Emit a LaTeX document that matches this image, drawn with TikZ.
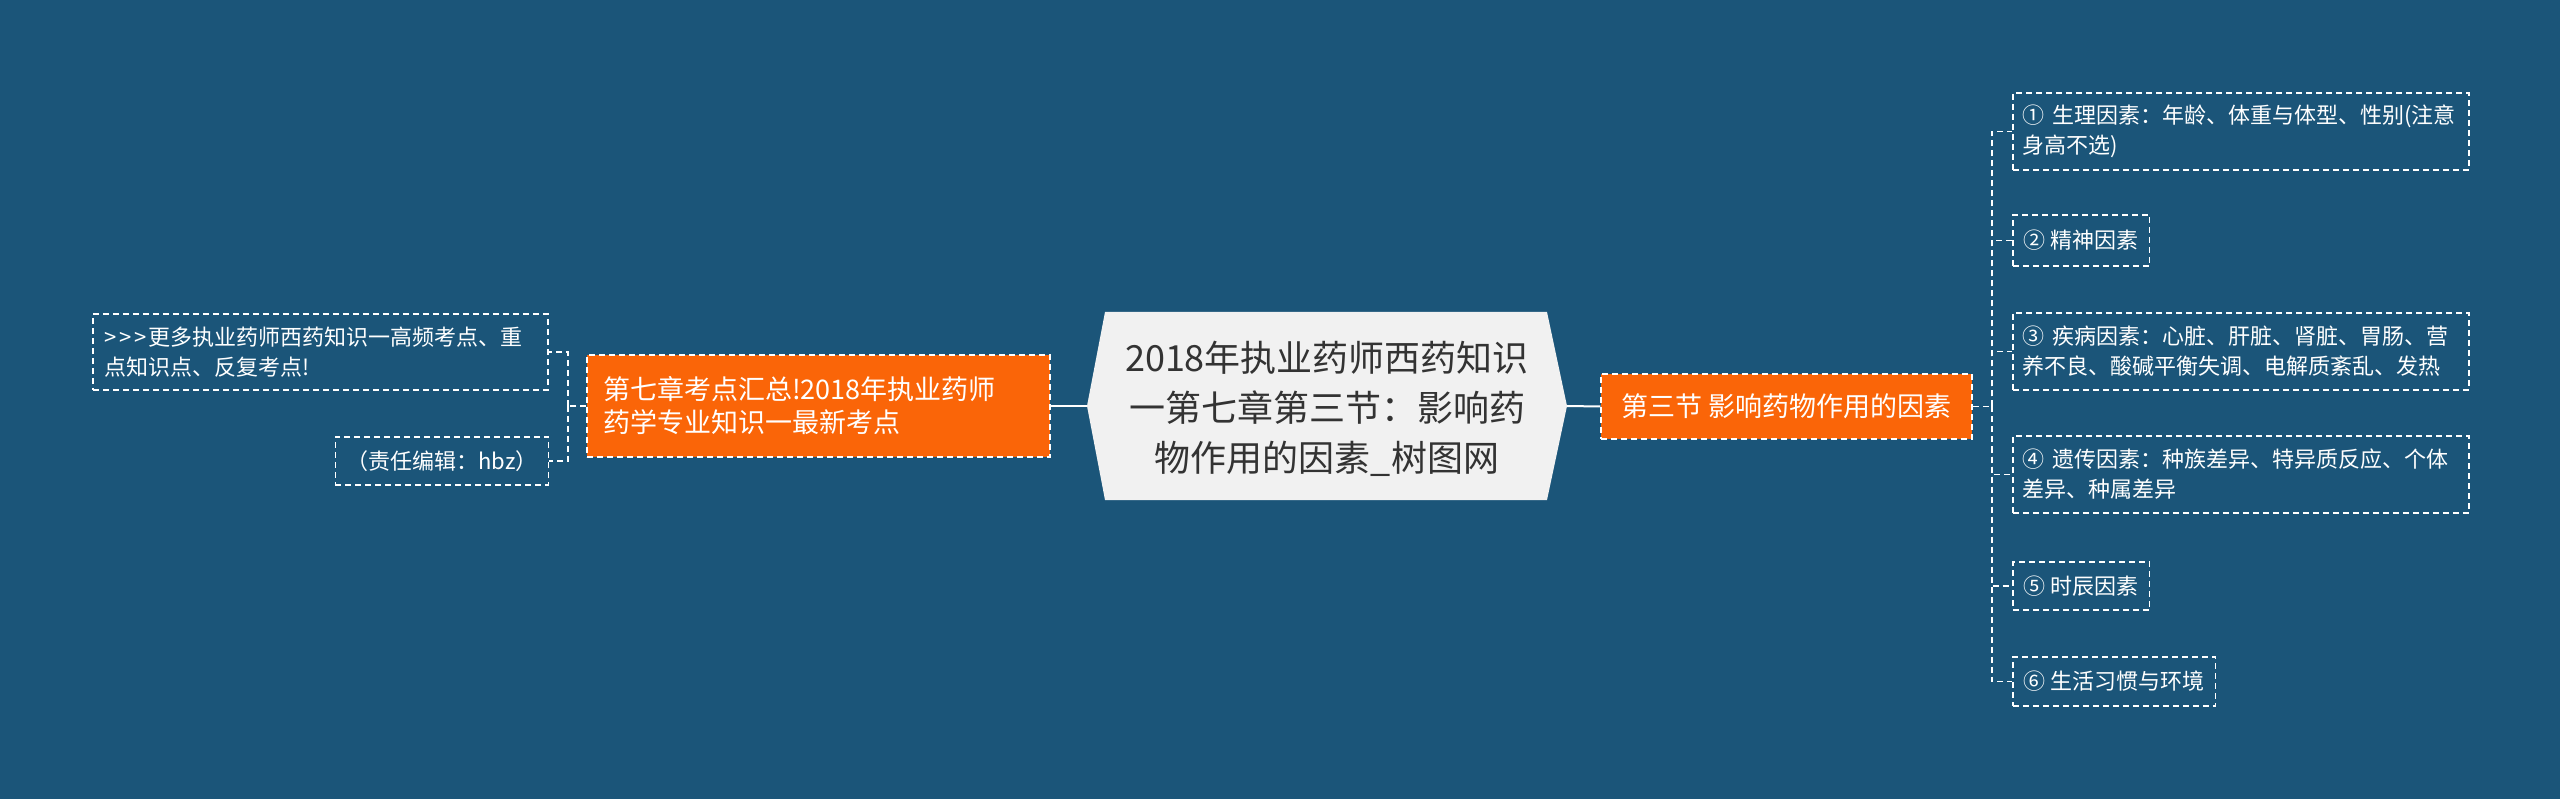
\documentclass[tikz,border=0pt]{standalone}
\usepackage{fontspec}
\setmainfont{Noto Sans CJK SC}
\definecolor{bg}{RGB}{27,85,121}
\definecolor{orng}{RGB}{250,101,8}
\definecolor{cfill}{RGB}{241,241,241}
\definecolor{ctext}{RGB}{51,51,51}
\newcommand\fsz[2]{\fontsize{#1}{#2}\selectfont}
\tikzset{
 dsh/.style={dash pattern=on 6pt off 4pt, line width=1.5pt, draw=white},
 leaf/.style={dsh, rectangle, text=white, font=\fsz{22}{30}, inner xsep=11pt, inner ysep=0pt, align=left, anchor=west},
 orbox/.style={dsh, rectangle, fill=orng, text=white, font=\fsz{27}{33}, inner xsep=16pt, inner ysep=0pt, align=left},
 conn/.style={dsh},
 solidconn/.style={draw=white, line width=2pt},
 centerbox/.style={font=\fsz{36}{50}, text=ctext, align=center},
}
\begin{document}
\begin{tikzpicture}[x=1pt,y=-1pt]
\fill[bg] (0,0) rectangle (2560,799);
\useasboundingbox (0,0) rectangle (2560,799);
% central topic
\fill[cfill] (1105,312) -- (1547,312) -- (1567,406) -- (1547,500) -- (1105,500) -- (1087,406) -- cycle;
\node[centerbox] (c) at (1327,409) {2018年执业药师西药知识\\一第七章第三节：影响药\\物作用的因素\_树图网};
\coordinate (cl) at (1087,406);
\coordinate (cr) at (1567,406);
% orange branches
\node[orbox, text width=431pt, minimum height=102pt] (lo) at (818.5,406) {第七章考点汇总!2018年执业药师\\药学专业知识一最新考点};
\node[orbox, minimum width=371pt, minimum height=65pt, align=center] (ro) at (1786.5,406.5) {第三节 影响药物作用的因素};
% right leaves
\node[leaf, inner xsep=10pt, text width=436pt, minimum height=77pt] (r1) at (2012,131.5) {① 生理因素：年龄、体重与体型、性别(注意\\身高不选)};
\node[leaf, minimum width=136pt, minimum height=51pt] (r2) at (2012,240.5) {② 精神因素};
\node[leaf, inner xsep=10pt, text width=436pt, minimum height=77pt] (r3) at (2012,351.5) {③ 疾病因素：心脏、肝脏、肾脏、胃肠、营\\养不良、酸碱平衡失调、电解质紊乱、发热};
\node[leaf, inner xsep=10pt, text width=436pt, minimum height=77pt] (r4) at (2012,474.5) {④ 遗传因素：种族差异、特异质反应、个体\\差异、种属差异};
\node[leaf, minimum width=136pt, minimum height=48pt] (r5) at (2012,586) {⑤ 时辰因素};
\node[leaf, minimum width=201pt, minimum height=49pt] (r6) at (2012,681.5) {⑥ 生活习惯与环境};
% left leaves
\node[leaf, anchor=center, inner xsep=11pt, text width=433pt, minimum height=76pt] (l1) at (320.5,352) {{>}\kern3pt{>}\kern3pt{>}\kern2pt更多执业药师西药知识一高频考点、重\\点知识点、反复考点!};
\node[leaf, anchor=center, minimum width=210pt, minimum height=48pt] (l2) at (442,461) {（责任编辑：hbz）};
% connectors
\draw[solidconn] (cl) -- (lo.east);
\draw[solidconn] (cr) -- (ro.west);
\coordinate (rb) at (1992,406.5);
\draw[conn] (ro.east) -- (rb);
\foreach \n in {r1,r2,r3,r4,r5,r6} \draw[conn] (rb) |- (\n.west);
\coordinate (lb) at (568,406);
\draw[conn] (lo.west) -- (lb);
\draw[conn] (lb) |- (l1.east);
\draw[conn] (lb) |- (l2.east);
\end{tikzpicture}
\end{document}
